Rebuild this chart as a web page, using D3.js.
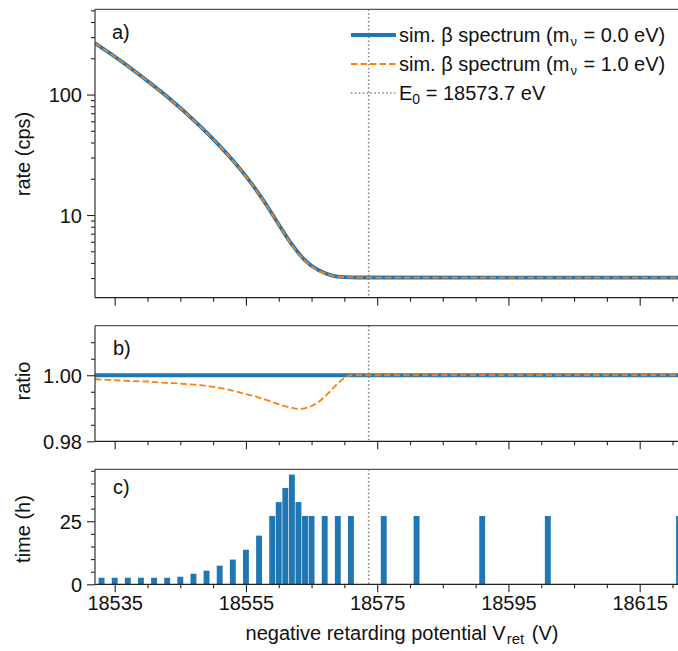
<!DOCTYPE html>
<html>
<head>
<meta charset="utf-8">
<script src="https://cdn.jsdelivr.net/npm/d3@7"></script>
<style>
  html, body { margin: 0; padding: 0; background: #fff; }
  svg { display: block; font-family: "Liberation Sans", Arial, sans-serif; }
</style>
</head>
<body>
<svg id="chart" width="678" height="651"></svg>
<script>
// ---------------- data ----------------
const rateVoltages = [18532, 18534, 18536, 18538, 18540, 18542, 18544, 18546, 18548, 18550, 18552,
                      18554, 18556, 18558, 18560, 18562, 18564, 18566, 18568, 18570, 18572, 18622];
const rateM0 = [267.3, 225.4, 188.8, 157.0, 129.7, 106.4, 86.3, 69.2, 54.7, 42.7, 32.7,
                24.5, 17.8, 12.4, 8.36, 5.70, 4.21, 3.50, 3.16, 3.05, 3.03, 3.02];
const rateM1 = [267.0, 225.1, 188.5, 156.7, 129.5, 106.2, 86.1, 69.0, 54.5, 42.6, 32.6,
                24.4, 17.7, 12.3, 8.29, 5.64, 4.17, 3.47, 3.15, 3.05, 3.03, 3.02];

const ratioVoltages = [18532, 18534, 18536, 18538, 18540, 18542, 18544, 18546, 18548, 18550, 18552,
                       18554, 18556, 18558, 18560, 18562, 18563, 18564, 18565, 18566, 18567, 18568,
                       18569, 18570, 18571, 18622];
const ratioM1 = [0.9988, 0.9986, 0.9984, 0.9982, 0.9981, 0.9978, 0.9976, 0.9973, 0.9970, 0.9965, 0.9958,
                 0.9948, 0.9938, 0.9926, 0.9912, 0.9901, 0.9898, 0.9900, 0.9907, 0.9918, 0.9935, 0.9955,
                 0.9975, 0.9992, 1.0, 1.0];
const ratioM0Voltages = [18532, 18622];
const ratioM0 = [1.0, 1.0];

const barVoltages = [18533, 18535, 18537, 18539, 18541, 18543, 18545, 18547, 18549, 18551, 18553,
                     18555, 18557, 18559, 18560, 18561, 18562, 18563, 18564, 18565, 18567, 18569,
                     18571, 18576, 18581, 18591, 18601, 18621];
const barHours = [2.6, 2.6, 2.6, 2.6, 2.6, 2.6, 3.0, 4.2, 5.4, 7.4, 9.8,
                  13.7, 19.3, 27.1, 32.6, 38.2, 43.5, 32.6, 27.1, 27.1, 27.1, 27.1,
                  27.1, 27.1, 27.1, 27.1, 27.1, 27.1];

const E0 = 18573.7;
const xMajorTicks = [18535, 18555, 18575, 18595, 18615];
const xMinorTicks = [18540, 18545, 18550, 18560, 18565, 18570, 18580, 18585, 18590, 18600, 18605, 18610, 18620];
const rateMajorTicks = [10, 100];
const rateMinorTicks = [3, 4, 5, 6, 7, 8, 9, 20, 30, 40, 50, 60, 70, 80, 90, 200, 300, 400, 500];
const ratioMajorTicks = [0.98, 1.00];
const ratioMinorTicks = [0.985, 0.99, 0.995, 1.005, 1.01];
const timeMajorTicks = [0, 25];
const timeMinorTicks = [5, 10, 15, 20, 30, 35, 40, 45];

const legendLabels = ["sim. β spectrum (m", "sim. β spectrum (m", "E"];

// ---------------- layout ----------------
const BLUE = "#1f77b4", ORANGE = "#ff7f0e", GREY = "#808080";
const FS = 20;
const left = 95;
const xDomain = [18532, 18622];
const pxPerV = 6.5625;
const x = d3.scaleLinear().domain(xDomain).range([left, left + (xDomain[1] - xDomain[0]) * pxPerV]);

const panels = {
  a: { top: 9.3, bottom: 297.7 },
  b: { top: 325.7, bottom: 441.3 },
  c: { top: 469.3, bottom: 584.3 }
};

const svg = d3.select("#chart");

const yRate = d3.scaleLog().domain([2.06, 510]).range([panels.a.bottom, panels.a.top]);
const yRatio = d3.scaleLinear().domain([0.98, 1.015]).range([panels.b.bottom, panels.b.top]);
const yTime = d3.scaleLinear().domain([0, 45.6]).range([panels.c.bottom, panels.c.top]);

function styleAxis(g) {
  g.selectAll(".domain").remove();
  g.selectAll(".tick line").attr("stroke", "#222").attr("stroke-width", 1.1);
  g.selectAll(".tick text").attr("font-size", FS).attr("fill", "#111")
    .attr("font-family", "'Liberation Sans', Arial, sans-serif");
}

function drawFrame(p, yScale, majors, minors, fmt, showXLabels) {
  const gxMinor = svg.append("g").attr("transform", `translate(0,${p.bottom})`)
    .call(d3.axisBottom(x).tickValues(xMinorTicks).tickSize(4).tickFormat(""));
  styleAxis(gxMinor);
  const gxMajor = svg.append("g").attr("transform", `translate(0,${p.bottom})`)
    .call(d3.axisBottom(x).tickValues(xMajorTicks).tickSize(8).tickPadding(4)
      .tickFormat(showXLabels ? d3.format("d") : ""));
  styleAxis(gxMajor);
  const gyMinor = svg.append("g").attr("transform", `translate(${left},0)`)
    .call(d3.axisLeft(yScale).tickValues(minors).tickSize(4).tickFormat(""));
  styleAxis(gyMinor);
  const gyMajor = svg.append("g").attr("transform", `translate(${left},0)`)
    .call(d3.axisLeft(yScale).tickValues(majors).tickSize(8).tickPadding(5).tickFormat(fmt));
  styleAxis(gyMajor);
  gyMajor.selectAll(".tick text").attr("dy", "0.36em");
  // spines
  svg.append("line").attr("x1", left).attr("x2", 700).attr("y1", p.bottom).attr("y2", p.bottom)
    .attr("stroke", "#222").attr("stroke-width", 1.2);
  svg.append("line").attr("x1", left).attr("x2", 700).attr("y1", p.top).attr("y2", p.top)
    .attr("stroke", "#555").attr("stroke-width", 1.2);
  svg.append("line").attr("x1", left).attr("x2", left).attr("y1", p.top).attr("y2", p.bottom)
    .attr("stroke", "#333").attr("stroke-width", 1.2);
}

// clip paths
Object.entries(panels).forEach(([k, p]) => {
  svg.append("clipPath").attr("id", "clip-" + k).append("rect")
    .attr("x", left).attr("y", p.top).attr("width", 700 - left).attr("height", p.bottom - p.top);
});

// ---------------- panel a ----------------
const gA = svg.append("g").attr("clip-path", "url(#clip-a)");
const lineRate = (ys) => d3.line().x((d, i) => x(rateVoltages[i])).y((d, i) => yRate(ys[i])).curve(d3.curveMonotoneX);
gA.append("path").datum(rateM0).attr("d", lineRate(rateM0)).attr("fill", "none")
  .attr("stroke", BLUE).attr("stroke-width", 3.8);
gA.append("path").datum(rateM1).attr("d", lineRate(rateM1)).attr("fill", "none")
  .attr("stroke", ORANGE).attr("stroke-width", 1.8).attr("stroke-dasharray", "6.5,3");

// ---------------- panel b ----------------
const gB = svg.append("g").attr("clip-path", "url(#clip-b)");
gB.append("path").datum(ratioM0)
  .attr("d", d3.line().x((d, i) => x(ratioM0Voltages[i])).y(d => yRatio(d))(ratioM0))
  .attr("fill", "none").attr("stroke", BLUE).attr("stroke-width", 3.8);
gB.append("path").datum(ratioM1)
  .attr("d", d3.line().x((d, i) => x(ratioVoltages[i])).y(d => yRatio(d)).curve(d3.curveMonotoneX)(ratioM1))
  .attr("fill", "none").attr("stroke", ORANGE).attr("stroke-width", 1.8).attr("stroke-dasharray", "6.5,3");

// ---------------- panel c ----------------
const gC = svg.append("g").attr("clip-path", "url(#clip-c)");
const barW = 0.9;
gC.selectAll("rect.bar").data(barHours).enter().append("rect")
  .attr("class", "bar")
  .attr("x", (d, i) => x(barVoltages[i] - barW / 2))
  .attr("width", x(xDomain[0] + barW) - x(xDomain[0]))
  .attr("y", d => yTime(d))
  .attr("height", d => yTime(0) - yTime(d))
  .attr("fill", BLUE);

// ---------------- E0 line (all panels) ----------------
Object.values(panels).forEach(p => {
  svg.append("line").attr("x1", x(E0)).attr("x2", x(E0)).attr("y1", p.top).attr("y2", p.bottom)
    .attr("stroke", GREY).attr("stroke-width", 1.5).attr("stroke-dasharray", "1.5,2.4");
});

// ---------------- axes ----------------
drawFrame(panels.a, yRate, rateMajorTicks, rateMinorTicks, d3.format("d"), false);
drawFrame(panels.b, yRatio, ratioMajorTicks, ratioMinorTicks, d3.format(".2f"), false);
drawFrame(panels.c, yTime, timeMajorTicks, timeMinorTicks, d3.format("d"), true);

// ---------------- labels ----------------
const txt = (xx, yy, s) => svg.append("text").attr("x", xx).attr("y", yy).attr("font-size", FS).attr("fill", "#111").text(s);
txt(112, 39, "a)");
txt(113, 355, "b)");
txt(113, 494, "c)");

function yLabel(cy, s) {
  svg.append("text").attr("transform", `translate(30,${cy}) rotate(-90)`)
    .attr("text-anchor", "middle").attr("font-size", FS).attr("fill", "#111").text(s);
}
yLabel(154, "rate (cps)");
yLabel(381, "ratio");
yLabel(529, "time (h)");

const xl = svg.append("text").attr("x", 402).attr("y", 640).attr("text-anchor", "middle")
  .attr("font-size", FS).attr("fill", "#111");
xl.append("tspan").text("negative retarding potential V");
xl.append("tspan").attr("font-size", 15).attr("dy", 4).attr("dx", 1).text("ret");
xl.append("tspan").attr("dy", -4).attr("dx", 2).text(" (V)");

// ---------------- legend ----------------
const legY = [35, 64, 93];
const lx1 = 351, lx2 = 396, tx = 399;
svg.append("line").attr("x1", lx1).attr("x2", lx2).attr("y1", legY[0]).attr("y2", legY[0])
  .attr("stroke", BLUE).attr("stroke-width", 3.8);
svg.append("line").attr("x1", lx1).attr("x2", lx2).attr("y1", legY[1]).attr("y2", legY[1])
  .attr("stroke", ORANGE).attr("stroke-width", 1.8).attr("stroke-dasharray", "6.5,3");
svg.append("line").attr("x1", lx1).attr("x2", lx2).attr("y1", legY[2]).attr("y2", legY[2])
  .attr("stroke", GREY).attr("stroke-width", 1.5).attr("stroke-dasharray", "1.5,2.4");

const masses = ["0.0", "1.0"];
[0, 1].forEach(i => {
  const t = svg.append("text").attr("x", tx).attr("y", legY[i] + 7).attr("font-size", FS).attr("fill", "#111");
  t.append("tspan").text(legendLabels[i]);
  t.append("tspan").attr("font-size", 13).attr("dy", 4).attr("dx", 1).text("ν");
  t.append("tspan").attr("dy", -4).attr("dx", 1).text(` = ${masses[i]} eV)`);
});
const tE = svg.append("text").attr("x", tx).attr("y", legY[2] + 7).attr("font-size", FS).attr("fill", "#111");
tE.append("tspan").text(legendLabels[2]);
tE.append("tspan").attr("font-size", 14).attr("dy", 4).text("0");
tE.append("tspan").attr("dy", -4).text(` = ${E0} eV`);
</script>
</body>
</html>
